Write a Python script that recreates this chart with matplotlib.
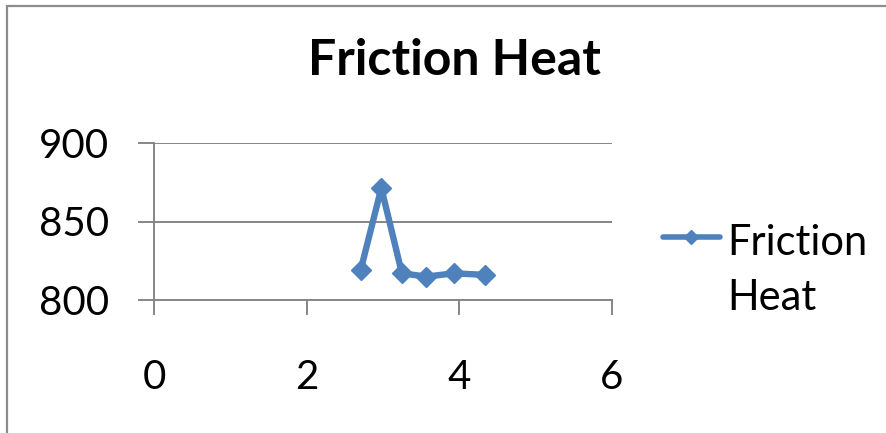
import matplotlib.pyplot as plt
from matplotlib.lines import Line2D
from matplotlib.patches import Rectangle

plt.rcParams.update({
    "font.family": ["Lato", "DejaVu Sans"],
    "figure.dpi": 100,
})

# Friction heat readings
x_vals = [2.71, 2.98, 3.25, 3.57, 3.93, 4.34]
heat = [819.2, 871.3, 817.0, 814.9, 817.0, 816.0]

x_ticks = [0, 2, 4, 6]
y_ticks = [800, 850, 900]
series_name = ["Friction", "Heat"]

COL_LINE = "#4F81BD"
COL_GRID = "#868686"

W, H = 886, 433
fig = plt.figure(figsize=(W / 100, H / 100))
ax = fig.add_axes([154 / W, 1 - 300 / H, (611.7 - 154) / W, (300 - 143) / H])

# chart frame (only top/left edges fall inside the image)
fig.patches.append(Rectangle((7 / W, -0.1), 1.2, 1 - 6 / H + 0.1,
                             transform=fig.transFigure, fill=False,
                             edgecolor="#8c8c8c", linewidth=1.6))

ax.plot(x_vals, heat, color=COL_LINE, linewidth=4.6, marker="D",
        markersize=10, markerfacecolor=COL_LINE, markeredgecolor=COL_LINE,
        solid_joinstyle="round", solid_capstyle="round")

ax.set_xlim(0, 6)
ax.set_ylim(800, 900)
ax.set_xticks(x_ticks)
ax.set_yticks(y_ticks)

for s in ["top", "right"]:
    ax.spines[s].set_visible(False)
for s in ["left", "bottom"]:
    ax.spines[s].set_color(COL_GRID)
    ax.spines[s].set_linewidth(1.4)

ax.yaxis.grid(True, color=COL_GRID, linewidth=1.4)
ax.set_axisbelow(True)

ax.tick_params(axis="y", direction="out", length=11.5, width=1.4,
               color=COL_GRID, pad=21, labelsize=29)
ax.tick_params(axis="x", direction="out", length=10.8, width=1.4,
               color=COL_GRID, pad=32, labelsize=29)

fig.text(454 / W, 1 - 75 / H, "Friction Heat", ha="center", va="baseline",
         fontsize=36, fontweight="bold")

# legend drawn by hand so the key sits on the first text line
fig.add_artist(Line2D([663 / W, 720 / W], [1 - 236.7 / H] * 2,
                      transform=fig.transFigure, color=COL_LINE, linewidth=4,
                      solid_capstyle="round"))
fig.add_artist(Line2D([690.7 / W], [1 - 236.7 / H], transform=fig.transFigure,
                      marker="D", markersize=7, color=COL_LINE, linestyle="none"))
fig.text(727 / W, 1 - 255 / H, series_name[0], ha="left", va="baseline",
         fontsize=30)
fig.text(727 / W, 1 - 310 / H, series_name[1], ha="left", va="baseline",
         fontsize=30)

fig.savefig("out.png", dpi=100)
